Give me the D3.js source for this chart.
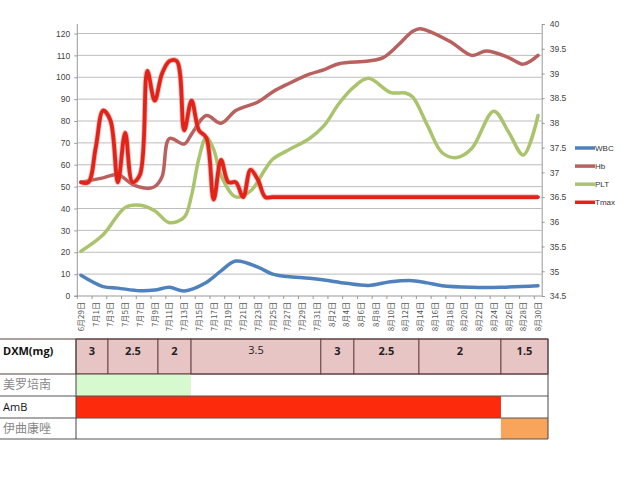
<!DOCTYPE html>
<html><head><meta charset="utf-8">
<script src="https://cdn.jsdelivr.net/npm/d3@7/dist/d3.min.js"></script>
<style>body{margin:0;background:#fff}svg{display:block}</style>
</head><body><svg id="c" width="640" height="480"></svg>
<script>
// ---------- data ----------
const xLabels = ["6月29日","7月1日","7月3日","7月5日","7月7日","7月9日","7月11日","7月13日","7月15日","7月17日","7月19日","7月21日","7月23日","7月25日","7月27日","7月29日","7月31日","8月2日","8月4日","8月6日","8月8日","8月10日","8月12日","8月14日","8月16日","8月18日","8月20日","8月22日","8月24日","8月26日","8月28日","8月30日"];
const dayCount = 63; // 6/29 .. 8/30
const leftTicks = [0,10,20,30,40,50,60,70,80,90,100,110,120];
const rightTicks = [34.5,35,35.5,36,36.5,37,37.5,38,38.5,39,39.5,40];
// [day index from 6/29, value]
const wbc = [[0,9.5],[3,4.3],[5,3.6],[8,2.4],[10,2.7],[12,4.0],[14,2.3],[17,6.2],[19,11.5],[21,16],[24,13.2],[26,10],[28,8.9],[31,8.1],[33,7.3],[36,5.8],[39,4.8],[42,6.5],[45,7],[47,6],[49,4.7],[53,4],[57,4],[62,4.7]];
const hb = [[0,52],[3,54],[5,55.5],[7,51],[9,49.2],[10,50],[11,54.5],[12,72],[14,69.5],[15,74],[17,82.5],[19,79],[21,84.8],[24,88.7],[26,93.3],[28,96.8],[31,101.4],[33,103.5],[35,106.2],[39,107.4],[41,109],[43,114.6],[45,121],[46,122.2],[50,116.5],[53,110],[55,112],[58,109],[60,106],[62,110]];
const plt = [[0,20.5],[3,28],[6,40.5],[8,41.5],[10,39],[12,33.5],[14,36],[15,46],[16,63],[17,72.5],[18,67],[19,55],[21,45.3],[23,48],[25,58],[26,62.5],[28,66.5],[31,72],[33,78],[35,88],[37,95.5],[39,99.5],[42,93],[44,92.8],[45,91],[47,78],[49,65.5],[51,63.3],[53,67.4],[56,84.5],[58,75],[60,64.5],[62,82.5]];
const tmax = [36.8,36.8,37.5,38.25,38.05,36.8,37.8,36.8,36.95,39.05,38.45,39.0,39.25,39.25,37.85,38.45,37.85,37.7,36.45,37.25,36.8,36.8,36.5,37.05,36.85,36.5,36.5,36.5,36.5,36.5,36.5,36.5,36.5,36.5,36.5,36.5,36.5,36.5,36.5,36.5,36.5,36.5,36.5,36.5,36.5,36.5,36.5,36.5,36.5,36.5,36.5,36.5,36.5,36.5,36.5,36.5,36.5,36.5,36.5,36.5,36.5,36.5,36.5];
const seriesNames = ["WBC","Hb","PLT","Tmax"];
const seriesColors = ["#4f81bd","#b9615e","#a9c46c","#e2231a"];
// table
const tableRows = ["DXM(mg)","美罗培南","AmB","伊曲康唑"];
const dxmDoses = ["3","2.5","2","3.5","3","2.5","2","1.5"];
const dxmStart = [0,4.35,11.15,15.65,33.3,37.8,46.65,57.8];
const tableEnd = 64.2;
const meropenem = [0,15.65];
const amb = [0,57.8];
const itraconazole = [57.8,64.2];

// ---------- drawing ----------
const svg = d3.select("#c");
const plotTop = 24, plotBottom = 296, plotLeft = 77.3, plotRight = 541.7;
const x = d3.scaleLinear().domain([0, dayCount]).range([plotLeft, plotRight]);
const yL = d3.scaleLinear().domain([0,120]).range([plotBottom, 33.5]);
const yR = d3.scaleLinear().domain([34.5,40]).range([plotBottom, plotTop]);
const font = "'Liberation Sans', Arial, sans-serif";
const cjk = "'Noto Sans CJK SC', sans-serif";

// gridlines
svg.append("g").selectAll("line").data(leftTicks.slice(1)).join("line")
  .attr("x1", plotLeft).attr("x2", plotRight)
  .attr("y1", d => yL(d)).attr("y2", d => yL(d))
  .attr("stroke", "#bdbdbd").attr("stroke-width", 1);

// left axis
const gL = svg.append("g").attr("transform", `translate(${plotLeft},0)`)
  .call(d3.axisLeft(yL).tickValues(leftTicks).tickSize(3).tickPadding(4));
gL.select(".domain").attr("d", `M-3,${plotBottom}H0V${plotTop}`);
// right axis
const gR = svg.append("g").attr("transform", `translate(${plotRight},0)`)
  .call(d3.axisRight(yR).tickValues(rightTicks).tickSize(3).tickPadding(5).tickFormat(d3.format("")));
[gL, gR].forEach(g => {
  g.select(".domain").attr("stroke", "#999");
  g.selectAll(".tick line").attr("stroke", "#999");
  g.selectAll("text").attr("fill", "#444").style("font-family", font).style("font-size", "8.5px");
});

// x axis
svg.append("line").attr("x1", plotLeft).attr("x2", plotRight).attr("y1", plotBottom).attr("y2", plotBottom).attr("stroke", "#999");
const xTickPos = d3.range(0, dayCount + 1, 2);
svg.append("g").selectAll("line").data(xTickPos).join("line")
  .attr("x1", d => x(d)).attr("x2", d => x(d)).attr("y1", plotBottom).attr("y2", plotBottom + 3).attr("stroke", "#999");
svg.append("g").selectAll("text").data(xLabels).join("text")
  .attr("transform", (d, k) => `translate(${x(2 * k + 0.5) + 3},${plotBottom + 6}) rotate(-90)`)
  .attr("text-anchor", "end")
  .style("font-family", cjk).style("font-size", "8px").attr("fill", "#555")
  .text(d => d);

// lines
const curve = d3.curveCatmullRom.alpha(0.5);
const lineL = d3.line().x(d => x(d[0] + 0.5)).y(d => yL(d[1])).curve(curve);
const lineR = d3.line().x((d, i) => x(i + 0.5)).y(d => yR(d)).curve(curve);
const plotG = svg.append("g");
[wbc, hb, plt].forEach((s, k) => {
  plotG.append("path").attr("d", lineL(s)).attr("fill", "none")
    .attr("stroke", seriesColors[k]).attr("stroke-width", 3.5).attr("stroke-linejoin", "round").attr("stroke-linecap", "round");
});
plotG.append("path").attr("d", lineR(tmax)).attr("fill", "none")
  .attr("stroke", "#f07a70").attr("stroke-width", 5.5).attr("stroke-opacity", 0.5).attr("stroke-linejoin", "round");
plotG.append("path").attr("d", lineR(tmax)).attr("fill", "none")
  .attr("stroke", seriesColors[3]).attr("stroke-width", 3.8).attr("stroke-linejoin", "round").attr("stroke-linecap", "round");

// legend
const leg = svg.append("g").selectAll("g").data(seriesNames).join("g")
  .attr("transform", (d, i) => `translate(575,${148 + i * 18.1})`);
leg.append("line").attr("x1", 0).attr("x2", 20).attr("stroke", (d, i) => seriesColors[i]).attr("stroke-width", 3.5);
leg.append("text").attr("x", 20).attr("dy", "0.35em").text(d => d)
  .style("font-family", font).style("font-size", "8px").attr("fill", "#333");

// ---------- table ----------
const tx = d3.scaleLinear().domain([0, tableEnd]).range([76, 548]);
const rowY = [339, 374, 396, 418, 439];
const tg = svg.append("g");
// DXM cells
tg.selectAll("rect.dxm").data(dxmDoses).join("rect").attr("class", "dxm")
  .attr("x", (d, i) => tx(dxmStart[i]))
  .attr("width", (d, i) => tx(i + 1 < dxmStart.length ? dxmStart[i + 1] : tableEnd) - tx(dxmStart[i]))
  .attr("y", rowY[0]).attr("height", rowY[1] - rowY[0])
  .attr("fill", "#e8c5c5").attr("stroke", "#6e4646").attr("stroke-width", 1);
tg.selectAll("text.dxm").data(dxmDoses).join("text").attr("class", "dxm")
  .attr("x", (d, i) => (tx(dxmStart[i]) + tx(i + 1 < dxmStart.length ? dxmStart[i + 1] : tableEnd)) / 2)
  .attr("y", (d, i) => d === "3.5" ? 350 : 351).attr("dy", "0.35em").attr("text-anchor", "middle")
  .style("font-family", "'Open Sans', sans-serif").style("font-size", "11px")
  .style("font-weight", d => d === "3.5" ? "normal" : "bold").attr("fill", "#222")
  .text(d => d);
// drug bars
const bars = [[meropenem, 1, "#d7f9d0"], [amb, 2, "#fd2a0c"], [itraconazole, 3, "#f8a55b"]];
tg.selectAll("rect.drug").data(bars).join("rect").attr("class", "drug")
  .attr("x", d => tx(d[0][0])).attr("width", d => tx(d[0][1]) - tx(d[0][0]))
  .attr("y", d => rowY[d[1]]).attr("height", d => rowY[d[1] + 1] - rowY[d[1]])
  .attr("fill", d => d[2]);
// borders
tg.selectAll("line.h").data(rowY).join("line").attr("class", "h")
  .attr("x1", 0).attr("x2", 548).attr("y1", d => d).attr("y2", d => d)
  .attr("stroke", (d, i) => i <= 1 ? "#5a3c3c" : "#555").attr("stroke-width", 1);
tg.append("line").attr("x1", 76).attr("x2", 76).attr("y1", rowY[0]).attr("y2", rowY[4]).attr("stroke", "#444");
tg.append("line").attr("x1", 548).attr("x2", 548).attr("y1", rowY[0]).attr("y2", rowY[4]).attr("stroke", "#444");
// row labels
tg.selectAll("text.row").data(tableRows).join("text").attr("class", "row")
  .attr("x", 3).attr("y", (d, i) => i === 0 ? 351 : (rowY[i] + rowY[i + 1]) / 2)
  .attr("dy", "0.35em")
  .style("font-family", (d, i) => (i === 0 || i === 2) ? "'Open Sans', sans-serif" : cjk)
  .style("font-size", (d, i) => i === 0 ? "11px" : (i === 2 ? "11px" : "12px"))
  .style("font-weight", (d, i) => i === 0 ? "bold" : "normal")
  .attr("fill", (d, i) => (i === 0 || i === 2) ? "#111" : "#888")
  .text(d => d);
</script></body></html>
